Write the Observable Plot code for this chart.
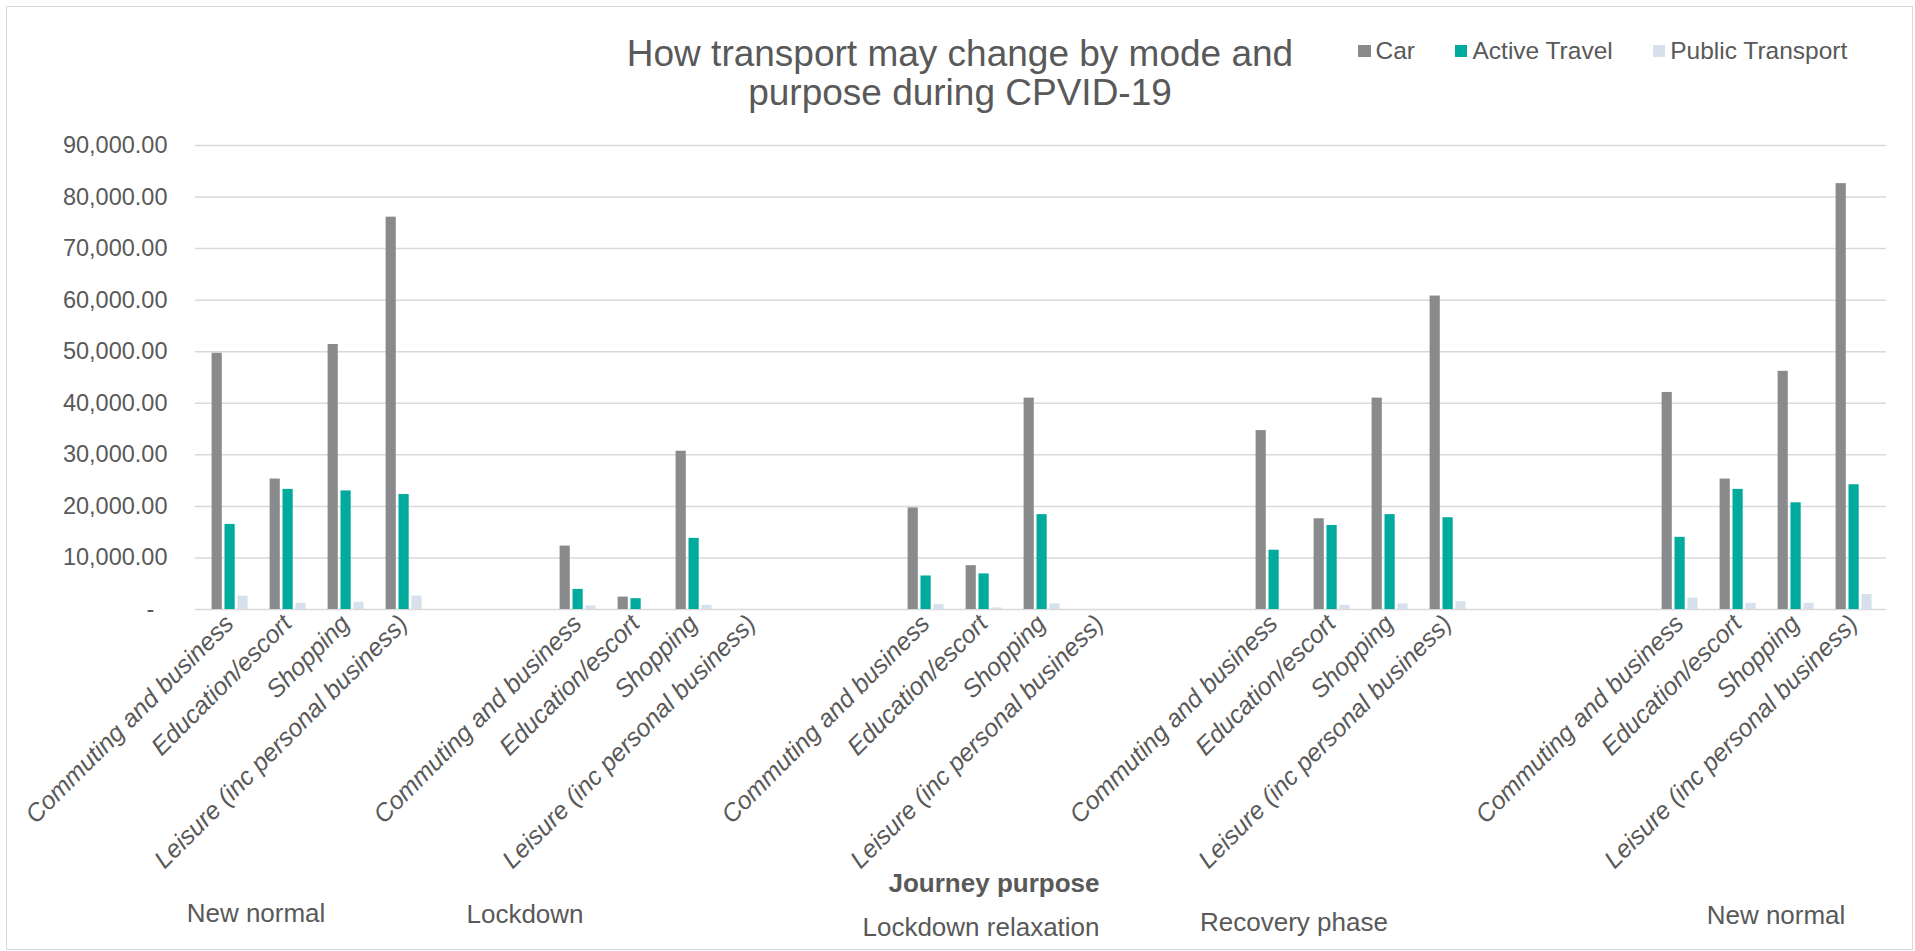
<!DOCTYPE html>
<html>
<head>
<meta charset="utf-8">
<script src="https://cdn.jsdelivr.net/npm/d3@7"></script>
<script src="https://cdn.jsdelivr.net/npm/@observablehq/plot@0.6"></script>
<style>
  html, body { margin: 0; padding: 0; background: #fff; }
  body { width: 1915px; height: 951px; overflow: hidden; font-family: "Liberation Sans", Arial, sans-serif; color: #595959; }
  #wrap { position: relative; width: 1915px; height: 951px; }
  #chart { position: absolute; left: 0; top: 0; }
  #chart svg [aria-label^="x-axis"] text { font-style: italic; font-size: 25px; }
  .ov { position: absolute; white-space: nowrap; z-index: 2; }
  #border { position: absolute; left: 6px; top: 6px; width: 1905px; height: 942px; border: 1px solid #d9d9d9; z-index: 3; pointer-events: none; }
  #title { left: 0; width: 1920px; top: 34px; text-align: center; font-size: 37px; line-height: 39px; }
  #legend { left: 1358px; top: 38px; font-size: 24.5px; line-height: 25px; display: flex; gap: 40px; }
  #legend .it { display: flex; align-items: center; gap: 5px; }
  #legend .sw { width: 12.5px; height: 12.5px; display: inline-block; margin-top: 1px; }
  .phase { font-size: 26px; line-height: 26px; transform: translateX(-50%); }
</style>
</head>
<body>
<div id="wrap">
  <div id="chart"></div>
  <div id="border"></div>
  <div class="ov" id="title">How transport may change by mode and<br>purpose during CPVID-19</div>
  <div class="ov" id="legend"></div>
  <div id="phases"></div>
</div>
<script>
// ---------- data ----------
const categories = [
  "Commuting and business", "Education/escort", "Shopping", "Leisure (inc personal business)", "", "",
  "Commuting and business", "Education/escort", "Shopping", "Leisure (inc personal business)", "", "",
  "Commuting and business", "Education/escort", "Shopping", "Leisure (inc personal business)", "", "",
  "Commuting and business", "Education/escort", "Shopping", "Leisure (inc personal business)", "", "", "",
  "Commuting and business", "Education/escort", "Shopping", "Leisure (inc personal business)"
];
const car = [
  49700, 25300, 51400, 76100, null, null,
  12300, 2400, 30700, null, null, null,
  19700, 8500, 41000, null, null, null,
  34700, 17600, 41000, 60800, null, null, null,
  42100, 25300, 46200, 82600
];
const activeTravel = [
  16500, 23300, 23000, 22300, null, null,
  3900, 2100, 13800, null, null, null,
  6500, 6900, 18400, null, null, null,
  11500, 16300, 18400, 17800, null, null, null,
  14000, 23300, 20700, 24200
];
const publicTransport = [
  2600, 1200, 1400, 2600, null, null,
  700, null, 800, null, null, null,
  1000, 300, 1100, null, null, null,
  null, 800, 1100, 1500, null, null, null,
  2200, 1200, 1200, 2900
];
const seriesNames = ["Car", "Active Travel", "Public Transport"];
const seriesColors = ["#898a8c", "#00ab9e", "#d6e1eb"];
const phaseNames = ["New normal", "Lockdown", "Lockdown relaxation", "Recovery phase", "New normal"];
const axisTitle = "Journey purpose";
const yTicks = [0, 10000, 20000, 30000, 40000, 50000, 60000, 70000, 80000, 90000];

// ---------- chart ----------
const toRows = arr => categories.map((c, i) => ({i, v: arr[i]})).filter(d => d.v != null);
const fmt = d3.format(",.2f");
const slot = 1691 / categories.length;
const barW = 10.5;
const offs = [11.6, 24.5, 37.4];
const barOpts = k => ({
  x: "i", y: "v", fill: seriesColors[k],
  insetLeft: offs[k], insetRight: slot - offs[k] - barW
});

const plot = Plot.plot({
  width: 1915,
  height: 951,
  marginLeft: 195,
  marginRight: 29,
  marginTop: 145,
  marginBottom: 342,
  style: {
    fontFamily: "'Liberation Sans', Arial, sans-serif",
    fontSize: "23.5px",
    color: "#595959",
    background: "white"
  },
  x: {
    type: "band",
    domain: d3.range(categories.length),
    padding: 0,
    tickFormat: i => categories[i],
    tickRotate: -45,
    tickSize: 0,
    tickPadding: 10,
    label: null
  },
  y: {
    domain: [0, 90000],
    ticks: yTicks,
    tickFormat: d => d === 0 ? "-\u2007" : fmt(d),
    tickSize: 0,
    tickPadding: 28,
    label: null
  },
  marks: [
    Plot.ruleY(yTicks, {stroke: "#d9d9d9", strokeWidth: 1.5}),
    Plot.barY(toRows(car), barOpts(0)),
    Plot.barY(toRows(activeTravel), barOpts(1)),
    Plot.barY(toRows(publicTransport), barOpts(2))
  ]
});
document.getElementById("chart").appendChild(plot);

// legend
const legend = document.getElementById("legend");
seriesNames.forEach((name, k) => {
  const it = document.createElement("div");
  it.className = "it";
  it.innerHTML = `<span class="sw" style="background:${seriesColors[k]}"></span><span>${name}</span>`;
  legend.appendChild(it);
});

// phase labels and axis title (text boxes under the axis)
const phasePos = [[256, 900], [525, 901], [981, 914], [1294, 909], [1776, 902]];
const phases = document.getElementById("phases");
phaseNames.forEach((name, k) => {
  const d = document.createElement("div");
  d.className = "ov phase";
  d.style.left = phasePos[k][0] + "px";
  d.style.top = phasePos[k][1] + "px";
  d.textContent = name;
  phases.appendChild(d);
});
const at = document.createElement("div");
at.className = "ov phase";
at.style.left = "994px";
at.style.top = "870px";
at.style.fontWeight = "bold";
at.textContent = axisTitle;
phases.appendChild(at);
</script>
</body>
</html>
